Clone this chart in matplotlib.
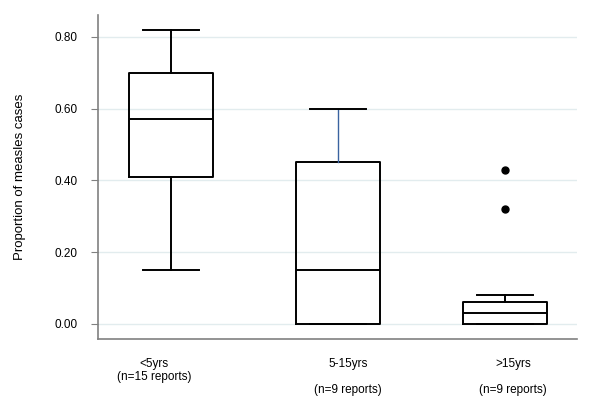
import matplotlib
matplotlib.use("Agg")
import matplotlib.pyplot as plt

plt.rcParams['font.family'] = ['Liberation Sans', 'DejaVu Sans']

categories = ["<5yrs\n(n=15 reports)", "5-15yrs\n\n(n=9 reports)", ">15yrs\n\n(n=9 reports)"]
whisker_low = [0.15, 0.0, 0.0]
q1 = [0.41, 0.0, 0.0]
medians = [0.57, 0.15, 0.03]
q3 = [0.70, 0.45, 0.06]
whisker_high = [0.82, 0.60, 0.08]
outliers = [[], [], [0.43, 0.32]]
yticks = [0.0, 0.2, 0.4, 0.6, 0.8]
ytick_labels = ["0.00", "0.20", "0.40", "0.60", "0.80"]

fig = plt.figure(figsize=(6, 4.13), dpi=100)
ax = fig.add_axes([98/600, 1-339/413, (577-98)/600, (339-15)/413])

stats = []
for i in range(len(categories)):
    stats.append(dict(med=medians[i], q1=q1[i], q3=q3[i],
                      whislo=whisker_low[i], whishi=whisker_high[i],
                      fliers=outliers[i]))

positions = [1, 2, 3]
bp = ax.bxp(stats, positions=positions, widths=0.5, showfliers=True,
            boxprops=dict(color='black', linewidth=1.4),
            medianprops=dict(color='black', linewidth=1.4),
            whiskerprops=dict(color='black', linewidth=1.4),
            capprops=dict(color='black', linewidth=1.4),
            flierprops=dict(marker='o', markerfacecolor='black', markeredgecolor='black', markersize=5),
            capwidths=0.33, zorder=3)
# upper whisker of second box drawn in blue
bp['whiskers'][3].set_color('#3a63a0')
bp['whiskers'][3].set_linewidth(1.0)

ax.set_xlim(0.563, 3.431)
ax.set_ylim(-0.042, 0.861)
ax.set_yticks(yticks)
ax.set_yticklabels(ytick_labels, fontsize=8.5)
for y in yticks:
    ax.axhline(y, color='#e2ecee', linewidth=1.0, zorder=1)

ax.set_xticks([0.9, 2.06, 3.05])
ax.set_xticklabels(categories, fontsize=8.5, linespacing=1.1)
ax.tick_params(axis='x', length=0, pad=14)
ax.tick_params(axis='y', length=5, color='#808080', pad=10)

ax.set_ylabel("Proportion of measles cases", fontsize=9.5, labelpad=20)

for s in ['top', 'right']:
    ax.spines[s].set_visible(False)
for s in ['left', 'bottom']:
    ax.spines[s].set_color('#808080')
    ax.spines[s].set_linewidth(1.2)

fig.savefig("out.png", dpi=100)
